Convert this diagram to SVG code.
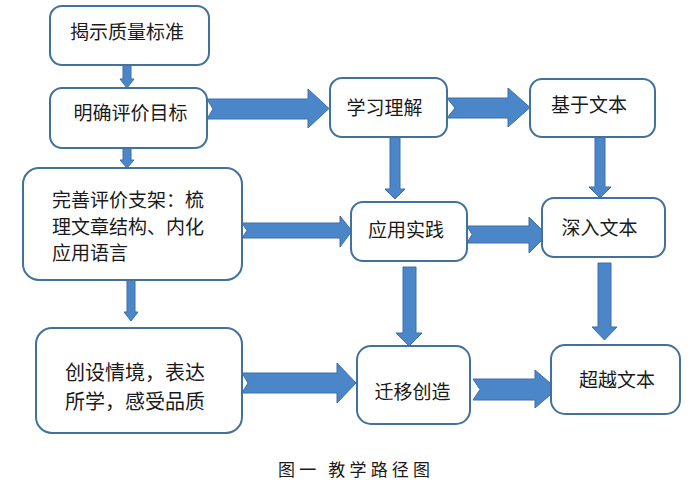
<svg xmlns="http://www.w3.org/2000/svg" width="697" height="482" viewBox="0 0 697 482">
<style>
.box{fill:#ffffff;stroke:#41719c;stroke-width:2}
.arr{fill:#4a86c8;stroke:#3c6ea6;stroke-width:1}
text{font-family:"Noto Sans CJK SC","Noto Sans",sans-serif;font-size:19px;fill:#1a1a1a}
.c{text-anchor:middle}
</style>
<rect width="697" height="482" fill="#ffffff"/>
<g id="connectors">
<polygon class="arr" points="123,65 131,65 131,79 134,79 127,88 120,79 123,79"/>
<polygon class="arr" points="123,148 131,148 131,160 134,160 127,168 120,160 123,160"/>
<polygon class="arr" points="127,280 135,280 135,312 138,312 131,321 124,312 127,312"/>
<polygon class="arr" points="207,99 308,99 308,89 329,108.5 308,128 308,119 207,119 213,109"/>
<polygon class="arr" points="447,98 508,98 508,88 530,107.5 508,127 508,118 447,118 455,108"/>
<polygon class="arr" points="390,137 400,137 400,189 405,189 395,199 385,189 390,189"/>
<polygon class="arr" points="595,137 605,137 605,187 611,187 600,198 589,187 595,187"/>
<polygon class="arr" points="242,223 340,223 340,216 352,231 340,247 340,238 242,238 247,230.5"/>
<polygon class="arr" points="467,226 529,226 529,217 547,235 529,253 529,243 467,243 472,234.5"/>
<polygon class="arr" points="403,267 416,267 416,333 422,333 409,346 396,333 403,333"/>
<polygon class="arr" points="598,263 611,263 611,327 617,327 604.5,340 592,327 598,327"/>
<polygon class="arr" points="242,373 337,373 337,363 356,383 337,403 337,393 242,393 248,383"/>
<polygon class="arr" points="473,379 535,379 535,370 557,389 535,408 535,400 473,400 480,389.5"/>
</g>
<g id="n1"><rect class="box" x="50" y="6" width="159" height="59" rx="12"/><text class="c" x="127" y="39">揭示质量标准</text></g>
<g id="n2"><rect class="box" x="50" y="88" width="157" height="60" rx="12"/><text class="c" x="130.5" y="120">明确评价目标</text></g>
<g id="n3"><rect class="box" x="23" y="168" width="219" height="112" rx="16"/>
<text x="52" y="207">完善评价支架：梳</text><text x="52" y="234">理文章结构、内化</text><text x="52" y="260">应用语言</text></g>
<g id="n4"><rect class="box" x="36" y="328" width="206" height="105" rx="16"/>
<text x="65" y="380" font-size="20" style="font-size:20px">创设情境，表达</text><text x="65" y="409" style="font-size:20px">所学，感受品质</text></g>
<g id="n5"><rect class="box" x="330" y="78" width="117" height="59" rx="12"/><text class="c" x="384.5" y="115">学习理解</text></g>
<g id="n6"><rect class="box" x="530" y="79" width="125" height="58" rx="12"/><text class="c" x="589" y="112">基于文本</text></g>
<g id="n7"><rect class="box" x="351" y="202" width="116" height="59" rx="12"/><text class="c" x="406" y="237">应用实践</text></g>
<g id="n8"><rect class="box" x="542" y="198" width="123" height="59" rx="12"/><text class="c" x="599.5" y="235">深入文本</text></g>
<g id="n9"><rect class="box" x="357" y="346" width="113" height="78" rx="14"/><text class="c" x="412.5" y="399">迁移创造</text></g>
<g id="n10"><rect class="box" x="551" y="345" width="129" height="69" rx="14"/><text class="c" x="617" y="387">超越文本</text></g>
<text x="278" y="476" style="font-size:17px" textLength="152" lengthAdjust="spacing" xml:space="preserve">图一 教学路径图</text>
</svg>
